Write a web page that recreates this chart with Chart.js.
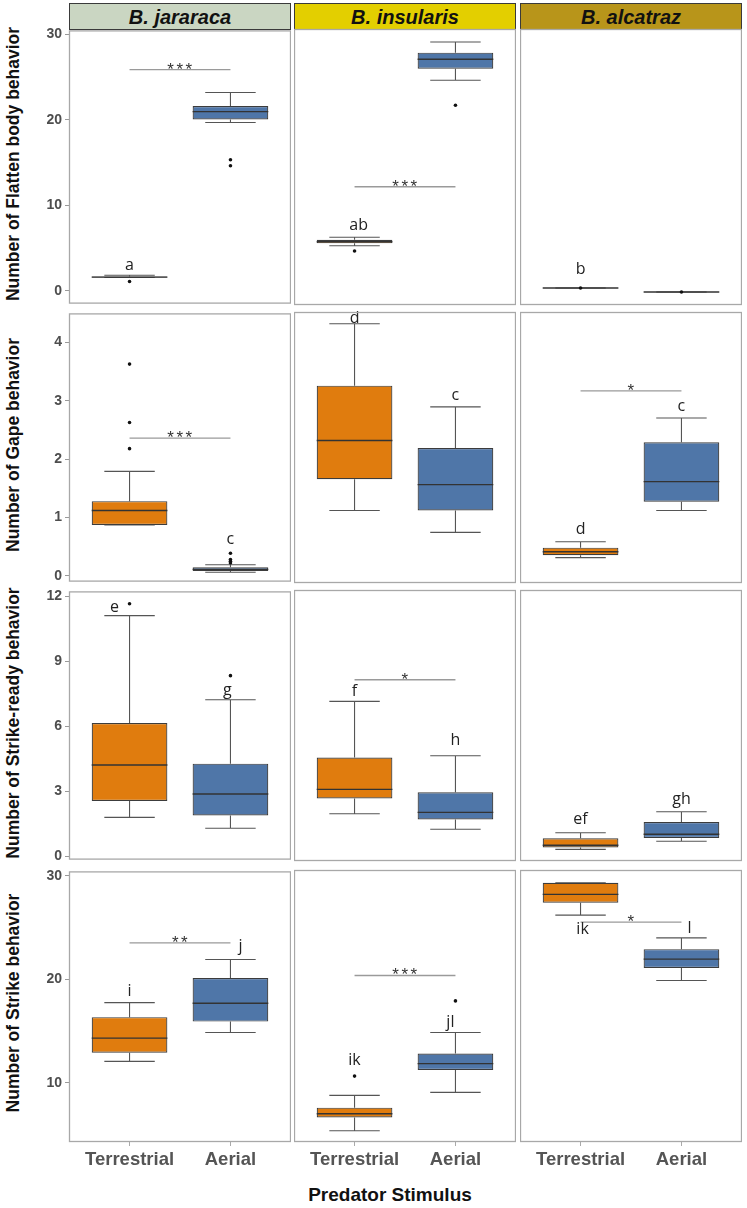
<!DOCTYPE html>
<html><head><meta charset="utf-8">
<script src="https://cdn.jsdelivr.net/npm/chart.js@4.4.1/dist/chart.umd.min.js"></script>
<style>
html,body{margin:0;padding:0;background:#fff;}
#wrap{position:relative;width:747px;height:1208px;overflow:hidden;background:#fff;}
canvas{position:absolute;}
.strip{position:absolute;box-sizing:border-box;border:1px solid #3a3a3a;font:italic bold 20px "Liberation Sans",Arial,sans-serif;color:#111;text-align:center;line-height:26px;}
.ytitle{position:absolute;font:bold 17.5px "Liberation Sans",Arial,sans-serif;color:#111;white-space:nowrap;transform:translate(-50%,-50%) rotate(-90deg);}
.xtitle{position:absolute;font:bold 19px "Liberation Sans",Arial,sans-serif;color:#111;white-space:nowrap;transform:translate(-50%,-50%);}
</style></head>
<body><div id="wrap"></div>
<script>
// ---------- data ----------
const species = ['B. jararaca', 'B. insularis', 'B. alcatraz'];
const stimuli = ['Terrestrial', 'Aerial'];
const behaviors = ['Number of Flatten body behavior', 'Number of Gape behavior', 'Number of Strike-ready behavior', 'Number of Strike behavior'];
const xTitle = 'Predator Stimulus';
const yTicks = [[0, 10, 20, 30], [0, 1, 2, 3, 4], [0, 3, 6, 9, 12], [10, 20, 30]];
const yRange = [[-1.5, 30.47], [-0.1, 4.5], [-0.15, 12.23], [4.3, 30.42]];

// [row][column] = [Terrestrial, Aerial]
const whiskerLow = [
  [[1.55, 19.7], [5.37, 24.53], [0.47, 0]],
  [[0.87, 0.06], [1.13, 0.76], [0.33, 1.13]],
  [[1.80, 1.30], [2.01, 1.30], [0.38, 0.75]],
  [[12.08, 14.87], [5.38, 9.07], [26.09, 19.81]]
];
const q1 = [
  [[1.55, 20.05], [5.64, 25.87], [0.47, 0]],
  [[0.87, 0.08], [1.66, 1.13], [0.37, 1.28]],
  [[2.56, 1.89], [2.71, 1.75], [0.47, 0.90]],
  [[12.91, 15.92], [6.66, 11.21], [27.27, 21.02]]
];
const median = [
  [[1.60, 20.97], [5.83, 26.96], [0.47, 0]],
  [[1.12, 0.11], [2.32, 1.57], [0.43, 1.62]],
  [[4.22, 2.88], [3.12, 2.07], [0.57, 1.07]],
  [[14.33, 17.69], [7.02, 11.83], [28.08, 21.86]]
];
const q3 = [
  [[1.66, 21.63], [6.06, 27.73], [0.47, 0]],
  [[1.28, 0.145], [3.25, 2.19], [0.50, 2.29]],
  [[6.15, 4.28], [4.58, 2.99], [0.89, 1.63]],
  [[16.35, 20.13], [7.60, 12.79], [29.19, 22.82]]
];
const whiskerHigh = [
  [[1.82, 23.21], [6.34, 28.97], [0.47, 0]],
  [[1.79, 0.19], [4.30, 2.89], [0.60, 2.70]],
  [[11.11, 7.23], [7.14, 4.66], [1.14, 2.10]],
  [[17.75, 21.92], [8.78, 14.81], [29.19, 23.90]]
];
const outliers = [
  [[[1.08], [15.33, 14.63]], [[4.75], [21.63]], [[0.47], [0]]],
  [[[3.63, 2.63, 2.18], [0.385, 0.28, 0.25, 0.22]], [[], []], [[], []]],
  [[[11.66], [8.34]], [[], []], [[], []]],
  [[[], []], [[10.63], [17.85]], [[], []]]
];
const letters = [
  [['a', ''], ['ab', ''], ['b', '']],
  [['', 'c'], ['d', 'c'], ['d', 'c']],
  [['e', 'g'], ['f', 'h'], ['ef', 'gh']],
  [['i', 'j'], ['ik', 'jl'], ['ik', 'l']]
];
const letterY = [
  [[2.93, null], [7.76, null], [2.63, null]],
  [[null, 0.63], [4.39, 3.09], [0.81, 2.89]],
  [[11.51, 7.66], [7.58, 5.34], [1.74, 2.68]],
  [[18.88, 23.2], [12.14, 15.77], [24.71, 24.81]]
];
const sigStars = [
  ['***', '***', ''],
  ['***', '', '*'],
  ['', '*', ''],
  ['**', '***', '*']
];
const sigY = [
  [25.87, 12.2, null],
  [2.36, null, 3.16],
  [null, 8.13, null],
  [23.52, 20.29, 25.41]
];

// ---------- styling / layout ----------
const ORANGE = '#E07C0E', BLUE = '#4F76A8';
const stripColors = ['#CAD6C2', '#E3CF00', '#B8951A'];
const letterShift = [
  [[0, 0], [0.04, 0], [0, 0]],
  [[0, 0], [0, 0], [0, 0]],
  [[-0.15, -0.03], [0, 0], [0, 0]],
  [[0, 0.1], [0, -0.05], [0.02, 0.08]]
];
const colLeft = [69, 294, 520], panelW = 222;
const rowTop = [29, 312, 590, 870], rowH = [276, 271, 271, 272];
const PAD = 10, YAXIS_W = 40, XAXIS_H = 44;
const BOX_HALF = 0.375, CAP_HALF = 0.25;

const wrap = document.getElementById('wrap');

species.forEach((s, c) => {
  const d = document.createElement('div');
  d.className = 'strip';
  d.textContent = s;
  Object.assign(d.style, {left: colLeft[c] + 'px', top: '3px', width: panelW + 'px', height: '27px', background: stripColors[c]});
  wrap.appendChild(d);
});
behaviors.forEach((b, r) => {
  const d = document.createElement('div');
  d.className = 'ytitle';
  d.textContent = b;
  Object.assign(d.style, {left: '13px', top: (rowTop[r] + rowH[r] / 2 - 3) + 'px'});
  wrap.appendChild(d);
});
{
  const d = document.createElement('div');
  d.className = 'xtitle';
  d.textContent = xTitle;
  Object.assign(d.style, {left: '390px', top: '1195px'});
  wrap.appendChild(d);
}

const panelPlugin = {
  id: 'panelDecor',
  afterDatasetsDraw(chart) {
    const {ctx, chartArea: a, scales: {x, y}} = chart;
    const {r, c} = chart.options.plugins.panelDecor;
    ctx.save();
    // significance label
    if (sigY[r][c] !== null) {
      const py = y.getPixelForValue(sigY[r][c]);
      const px = (x.getPixelForValue(1) + x.getPixelForValue(2)) / 2;
      ctx.font = '17px "Liberation Sans", Arial, sans-serif';
      ctx.fillStyle = '#333';
      ctx.textAlign = 'center';
      ctx.textBaseline = 'alphabetic';
      try { ctx.letterSpacing = '2.5px'; } catch (e) {}
      ctx.fillText(sigStars[r][c], px + 1, py + 5);
      try { ctx.letterSpacing = '0px'; } catch (e) {}
    }
    // group letters
    ctx.font = '16px "Open Sans", "Noto Sans", sans-serif';
    ctx.fillStyle = '#222';
    ctx.textAlign = 'center';
    ctx.textBaseline = 'middle';
    for (let k = 0; k < 2; k++) {
      if (letterY[r][c][k] === null) continue;
      ctx.fillText(letters[r][c][k], x.getPixelForValue(k + 1 + letterShift[r][c][k]), y.getPixelForValue(letterY[r][c][k]));
    }
    // panel border
    ctx.strokeStyle = '#a8a8a8';
    ctx.lineWidth = 1.3;
    ctx.strokeRect(a.left + 0.5, a.top + 0.5, a.right - a.left - 1, a.bottom - a.top - 1);
    ctx.restore();
  }
};

function segs(list) {
  const out = [];
  list.forEach((p, i) => {
    if (i > 0) out.push({x: 1.5, y: null});
    out.push(p[0], p[1]);
  });
  return out;
}

for (let r = 0; r < 4; r++) {
  for (let c = 0; c < 3; c++) {
    const isLeft = c === 0, isBottom = r === 3;
    const cv = document.createElement('canvas');
    const w = panelW + (isLeft ? YAXIS_W : 0);
    const h = rowH[r] + 2 * PAD + (isBottom ? XAXIS_H : 0);
    cv.width = w; cv.height = h;
    Object.assign(cv.style, {left: (colLeft[c] - (isLeft ? YAXIS_W : 0)) + 'px', top: (rowTop[r] - PAD) + 'px', width: w + 'px', height: h + 'px'});
    wrap.appendChild(cv);

    const lo = whiskerLow[r][c], a = q1[r][c], m = median[r][c], b = q3[r][c], hi = whiskerHigh[r][c];
    const whiskerSegs = [], medSegs = [], pts = [];
    for (let k = 0; k < 2; k++) {
      const xc = k + 1;
      whiskerSegs.push([{x: xc, y: b[k]}, {x: xc, y: hi[k]}]);
      whiskerSegs.push([{x: xc, y: a[k]}, {x: xc, y: lo[k]}]);
      whiskerSegs.push([{x: xc - CAP_HALF, y: hi[k]}, {x: xc + CAP_HALF, y: hi[k]}]);
      whiskerSegs.push([{x: xc - CAP_HALF, y: lo[k]}, {x: xc + CAP_HALF, y: lo[k]}]);
      medSegs.push([{x: xc - BOX_HALF, y: m[k]}, {x: xc + BOX_HALF, y: m[k]}]);
      outliers[r][c][k].forEach(v => pts.push({x: xc, y: v}));
    }
    const datasets = [
      {type: 'line', data: segs(whiskerSegs), borderColor: '#555', borderWidth: 1.1, pointRadius: 0, spanGaps: false, order: 5, clip: 4},
      {type: 'bar', data: [{x: 1, y: [a[0], b[0]]}, {x: 2, y: [a[1], b[1]]}], backgroundColor: [ORANGE, BLUE], borderColor: '#3c3c3c', borderWidth: 1.2, borderSkipped: false, barPercentage: 0.75, categoryPercentage: 1, order: 4},
      {type: 'line', data: segs(medSegs), borderColor: '#333', borderWidth: 1.4, pointRadius: 0, spanGaps: false, order: 3, clip: 4},
      {type: 'line', data: pts, showLine: false, pointRadius: 1.8, pointBackgroundColor: '#111', pointBorderWidth: 0, order: 2, clip: 6}
    ];
    if (sigY[r][c] !== null) {
      datasets.push({type: 'line', data: [{x: 1, y: sigY[r][c]}, {x: 2, y: sigY[r][c]}], borderColor: '#9a9a9a', borderWidth: 1.3, pointRadius: 0, order: 1});
    }
    new Chart(cv, {
      type: 'bar',
      data: {datasets},
      plugins: [panelPlugin],
      options: {
        responsive: false, animation: false, events: [],
        layout: {autoPadding: false, padding: {top: PAD, bottom: PAD, left: 0, right: 0}},
        plugins: {legend: {display: false}, tooltip: {enabled: false}, panelDecor: {r, c}},
        scales: {
          x: {
            type: 'linear', min: 0.4, max: 2.6, offset: false, display: isBottom,
            afterBuildTicks: s => { s.ticks = [{value: 1}, {value: 2}]; },
            afterFit: s => { s.height = isBottom ? XAXIS_H : 0; },
            ticks: {callback: (v, i) => stimuli[i], font: {family: '"Liberation Sans", Arial, sans-serif', size: 18.5, weight: 'bold'}, color: '#555', padding: 3, maxRotation: 0, autoSkip: false},
            grid: {offset: false, drawOnChartArea: false, drawTicks: true, tickLength: 4, color: '#aaa'},
            border: {display: false}
          },
          y: {
            type: 'linear', min: yRange[r][0], max: yRange[r][1], display: isLeft,
            afterBuildTicks: s => { s.ticks = yTicks[r].map(v => ({value: v})); },
            afterFit: s => { s.width = isLeft ? YAXIS_W : 0; },
            ticks: {font: {family: '"Liberation Sans", Arial, sans-serif', size: 14, weight: 'bold'}, color: '#4d4d4d', padding: 3},
            grid: {drawOnChartArea: false, drawTicks: true, tickLength: 4, color: '#999'},
            border: {display: false}
          }
        }
      }
    });
  }
}
</script>
</body></html>
